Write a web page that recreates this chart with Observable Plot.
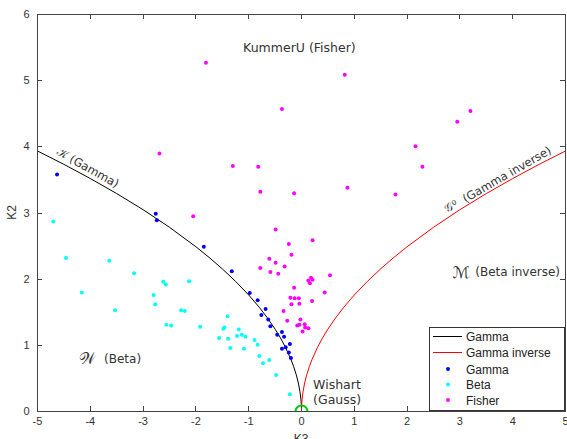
<!DOCTYPE html>
<html><head><meta charset="utf-8">
<script src="https://cdn.jsdelivr.net/npm/d3@7"></script>
<script src="https://cdn.jsdelivr.net/npm/@observablehq/plot@0.6"></script>
<style>
body{margin:0;background:#fff}
#chart{position:relative;width:567px;height:439px;overflow:hidden}
</style>
</head><body><div id="chart"></div>
<script>
// Theoretical boundary curves: |K3| -> K2
const curveAbsK3 = [0, 0.003, 0.01, 0.03, 0.06, 0.1, 0.15, 0.2, 0.3, 0.4, 0.5, 0.65, 0.8, 1, 1.25, 1.5, 1.75, 2, 2.5, 3, 3.5, 4, 4.5, 5];
const curveK2    = [0, 0.096, 0.176, 0.305, 0.431, 0.557, 0.682, 0.787, 0.964, 1.114, 1.245, 1.419, 1.575, 1.761, 1.968, 2.156, 2.329, 2.490, 2.784, 3.050, 3.294, 3.521, 3.735, 3.937];

// Sample points
const gammaK3 = [-4.63,-2.76,-2.74,-1.85,-1.32,-0.98,-0.83,-0.68,-0.76,-0.63,-0.59,-0.46,-0.37,-0.33,-0.22,-0.37,-0.30,-0.24,-0.20];
const gammaK2 = [3.58, 2.99, 2.89, 2.49, 2.12, 1.79, 1.68, 1.55, 1.46, 1.39, 1.29, 1.16, 1.20, 1.13, 1.02, 0.95, 0.97, 0.89, 0.81];

const betaK3 = [-4.70,-4.46,-3.64,-3.17,-2.62,-2.57,-2.13,-4.16,-3.53,-2.80,-2.77,-2.56,-2.47,-2.28,-2.21,-1.92,-1.56,-1.48,-1.46,-1.40,-1.39,-1.35,-1.19,-1.13,-1.22,-1.06,-0.89,-0.83,-1.09,-0.80,-0.61,-0.73,-0.48,-0.22];
const betaK2 = [ 2.87, 2.32, 2.28, 2.09, 1.96, 1.92, 1.97, 1.80, 1.53, 1.76, 1.62, 1.31, 1.30, 1.53, 1.52, 1.28, 1.11, 1.25, 1.27, 1.44, 1.10, 0.96, 1.24, 1.16, 1.14, 1.13, 1.08, 1.01, 0.95, 0.84, 0.78, 0.73, 0.55, 0.26];

const fisherK3 = [-1.81,0.82,-0.37,3.20,2.95,2.16,-2.69,-1.30,-0.82,2.29,0.87,-0.78,-0.14,1.78,-2.05,-0.49,0.21,-0.24,-0.19,-0.61,-0.49,-0.32,-0.78,-0.59,-0.44,0.54,0.18,0.21,0.13,0.16,-0.14,0.44,-0.21,-0.13,-0.05,0.20,-0.19,-0.04,-0.34,-0.27,-0.02,-0.08,-0.04,0.06,0.07,0.13,0.02];
const fisherK2 = [ 5.27,5.09, 4.57,4.54,4.38,4.01, 3.90, 3.71, 3.70,3.70,3.38, 3.32, 3.30,3.28, 2.95, 2.75,2.59, 2.53, 2.37, 2.31, 2.25, 2.19, 2.17, 2.11, 2.08,2.06,2.02,1.99,1.98,1.94, 1.87,1.80, 1.72, 1.71, 1.71,1.67, 1.62, 1.63, 1.52, 1.37, 1.39, 1.30, 1.31,1.32,1.27,1.26,1.21];

const xTicks = [-5,-4,-3,-2,-1,0,1,2,3,4,5];
const yTicks = [0,1,2,3,4,5,6];
const legendLabels = ["Gamma","Gamma inverse","Gamma","Beta","Fisher"];

const gammaCurve = curveAbsK3.map((a,i)=>({x:-a, y:curveK2[i]})).reverse();
const invCurve = curveAbsK3.map((a,i)=>({x:a, y:curveK2[i]}));
const pts = (xs, ys) => xs.map((x,i)=>({x, y:ys[i]}));
const gammaPts = pts(gammaK3, gammaK2), betaPts = pts(betaK3, betaK2), fisherPts = pts(fisherK3, fisherK2);

const ann = {fontFamily:"DejaVu Sans, sans-serif", fontSize:12, fill:"#333"};
const R = 2;
const fmt = d => String(d);

const chart = Plot.plot({
  width:567, height:439,
  marginLeft:37, marginRight:2, marginTop:14, marginBottom:28,
  x:{domain:[-5,5]}, y:{domain:[0,6]},
  style:{fontFamily:"Liberation Sans, Arial, sans-serif", fontSize:"11px", color:"#333", background:"#fff"},
  marks:[
    Plot.axisX(xTicks,{tickSize:0, tickPadding:6, label:null, fontSize:11, tickFormat:fmt}),
    Plot.axisY(yTicks,{tickSize:0, tickPadding:8, label:null, fontSize:11, tickFormat:fmt}),
    Plot.line(gammaCurve,{x:"x", y:"y", stroke:"#000", strokeWidth:1}),
    Plot.line(invCurve,{x:"x", y:"y", stroke:"#ff0000", strokeWidth:1}),
    Plot.dot([{x:0,y:0}],{x:"x", y:"y", r:6, stroke:"#00cc00", strokeWidth:2, clip:true}),
    Plot.dot(gammaPts,{x:"x", y:"y", r:R, fill:"#0000ff"}),
    Plot.dot(betaPts,{x:"x", y:"y", r:R, fill:"#00ffff"}),
    Plot.dot(fisherPts,{x:"x", y:"y", r:R, fill:"#ff00ff"}),
    Plot.text(["KummerU (Fisher)"],{x:-0.04, y:5.5, text:d=>d, ...ann, fontSize:12.5}),
    Plot.text(["Wishart"],{x:0.22, y:0.40, text:d=>d, textAnchor:"start", ...ann, fontSize:12.5}),
    Plot.text(["(Gauss)"],{x:0.22, y:0.17, text:d=>d, textAnchor:"start", ...ann, fontSize:12.5}),
    Plot.text(["\u2133"],{x:2.86, y:2.10, text:d=>d, textAnchor:"start", ...ann, fontSize:16}),
    Plot.text(["(Beta inverse)"],{x:3.29, y:2.10, text:d=>d, textAnchor:"start", ...ann}),
    Plot.text(["\uD835\uDCB2"],{x:-4.22, y:0.79, text:d=>d, textAnchor:"start", ...ann, fontSize:16}),
    Plot.text(["(Beta)"],{x:-3.74, y:0.79, text:d=>d, textAnchor:"start", ...ann}),
    Plot.text(["\uD835\uDCA6 (Gamma)"],{x:-4.05, y:3.68, text:d=>d, rotate:29, ...ann, fontSize:11.5}),
    Plot.text(["\uD835\uDCA2\u2070  (Gamma inverse)"],{x:3.72, y:3.50, text:d=>d, rotate:-30, ...ann, fontSize:11.5}),
    Plot.frame({stroke:"#444", strokeWidth:1})
  ]
});

// inward ticks on all four sides, axis labels, legend
const sx = chart.scale("x"), sy = chart.scale("y");
const fx = sx.apply ? (v)=>sx.apply(v) : d3.scaleLinear(sx.domain, sx.range);
const fy = sy.apply ? (v)=>sy.apply(v) : d3.scaleLinear(sy.domain, sy.range);
const svg = d3.select(chart);
const [x0,x1] = [fx(-5), fx(5)], [yb,yt] = [fy(0), fy(6)];
const g = svg.append("g").attr("stroke","#444").attr("stroke-width",1);
const TL = 5;
xTicks.forEach(v=>{
  const px = Math.round(fx(v))+0.5;
  g.append("line").attr("x1",px).attr("x2",px).attr("y1",yb).attr("y2",yb-TL);
  g.append("line").attr("x1",px).attr("x2",px).attr("y1",yt).attr("y2",yt+TL);
});
yTicks.forEach(v=>{
  const py = Math.round(fy(v))+0.5;
  g.append("line").attr("x1",x0).attr("x2",x0+TL).attr("y1",py).attr("y2",py);
  g.append("line").attr("x1",x1).attr("x2",x1-TL).attr("y1",py).attr("y2",py);
});
svg.append("text").attr("x",(x0+x1)/2).attr("y",443).attr("text-anchor","middle")
  .attr("font-family","Liberation Sans, Arial, sans-serif").attr("font-size",12).attr("fill","#333").text("K3");
svg.append("text").attr("transform",`translate(16,${(yb+yt)/2}) rotate(-90)`).attr("text-anchor","middle")
  .attr("font-family","Liberation Sans, Arial, sans-serif").attr("font-size",12).attr("fill","#333").text("K2");

// legend
const L = svg.append("g").attr("font-family","Liberation Sans, Arial, sans-serif").attr("font-size",12)
  .attr("fill","#222").attr("text-anchor","start");
const lx = 429, ly = 327, lw = x1 - 429, lh = 83;
L.append("rect").attr("x",lx+0.5).attr("y",ly+0.5).attr("width",lw-1).attr("height",lh).attr("fill","#fff").attr("stroke","#333");
const rows = [ly+9.5, ly+25.5, ly+42, ly+57.5, ly+73];
const kinds = [{t:"line",c:"#000"},{t:"line",c:"#ff0000"},{t:"dot",c:"#0000ff"},{t:"dot",c:"#00ffff"},{t:"dot",c:"#ff00ff"}];
legendLabels.forEach((lab,i)=>{
  const y = rows[i], k = kinds[i];
  if (k.t==="line") L.append("line").attr("x1",433).attr("x2",462).attr("y1",y).attr("y2",y).attr("stroke",k.c);
  else L.append("circle").attr("cx",448).attr("cy",y).attr("r",R).attr("fill",k.c);
  L.append("text").attr("x",466).attr("y",y+4.5).attr("text-anchor","start").text(lab);
});

document.getElementById("chart").appendChild(chart);
</script>
</body></html>
